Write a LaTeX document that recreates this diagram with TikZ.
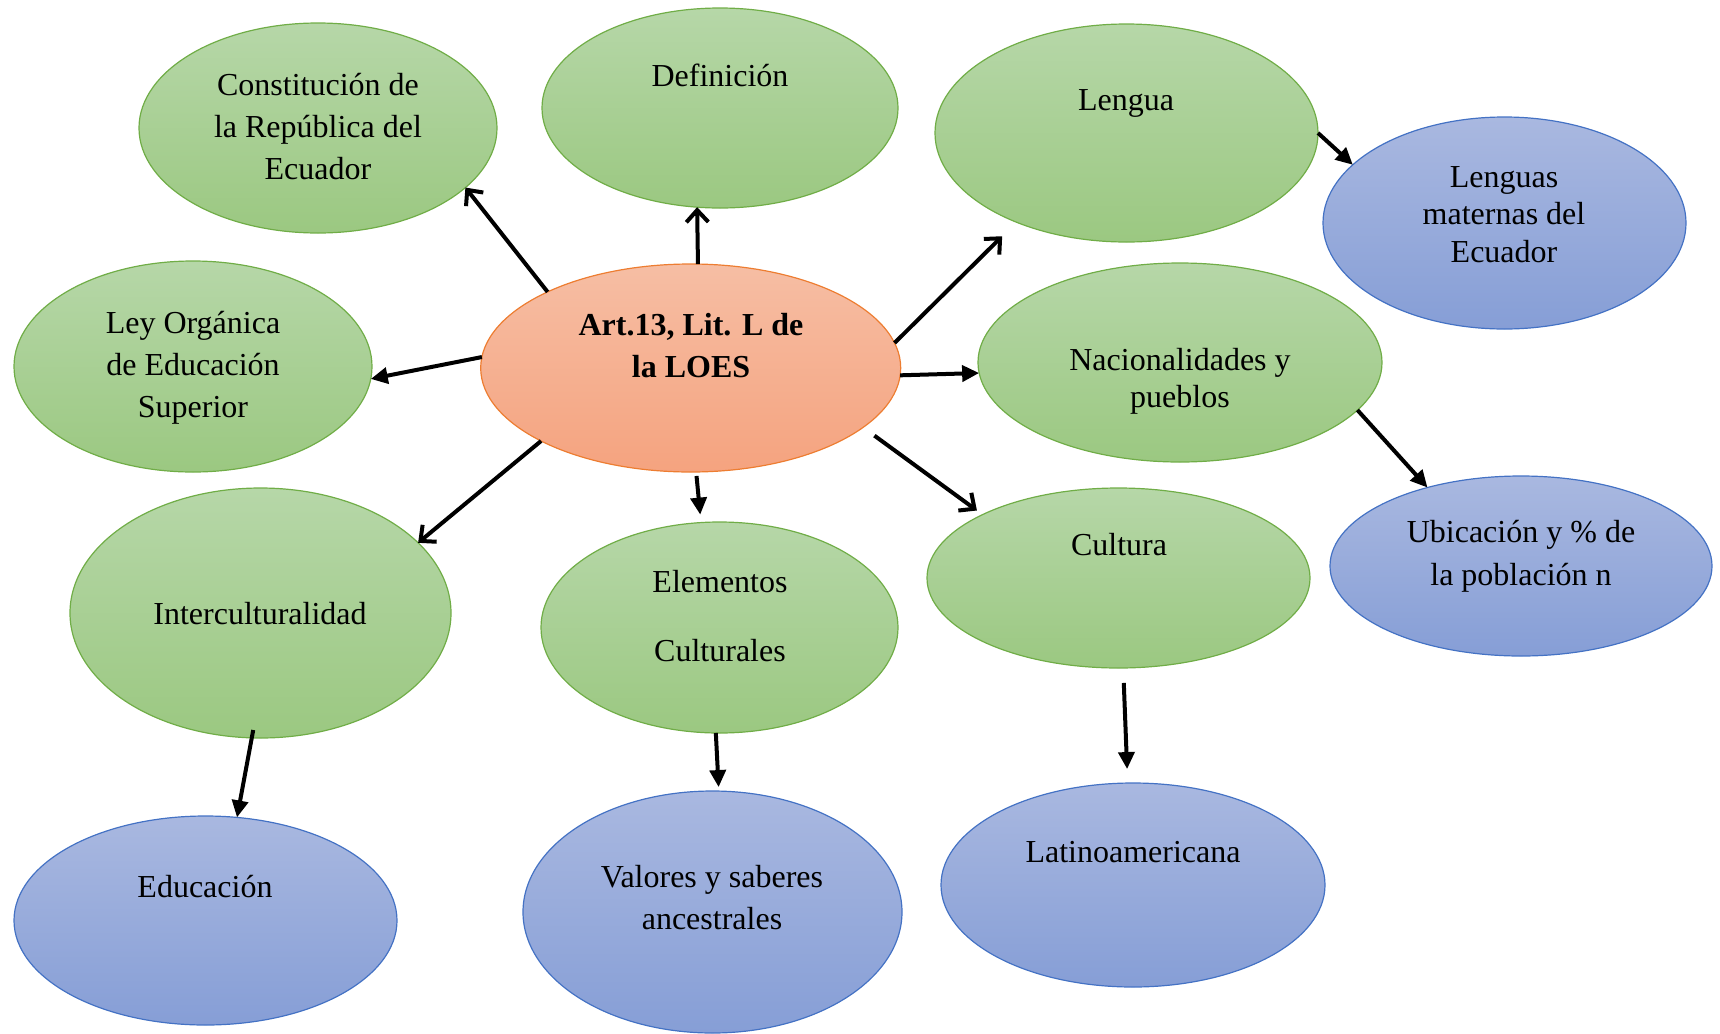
\documentclass[tikz,border=0pt]{standalone}
\usepackage{fontspec}
\setmainfont{Liberation Serif}
\usetikzlibrary{shapes.geometric,arrows.meta}
\definecolor{gTop}{HTML}{B6D7A8}
\definecolor{gBot}{HTML}{9BC881}
\definecolor{gLine}{HTML}{70AD47}
\definecolor{oTop}{HTML}{F6BEA4}
\definecolor{oBot}{HTML}{F5A37F}
\definecolor{oLine}{HTML}{ED7D31}
\definecolor{bTop}{HTML}{A9B8E0}
\definecolor{bBot}{HTML}{869ED6}
\definecolor{bLine}{HTML}{4472C4}
\tikzset{
  bub/.style={ellipse, inner sep=0pt, outer sep=0pt, line width=0.6pt},
  gbub/.style={bub, draw=gLine, top color=gTop, bottom color=gBot},
  obub/.style={bub, draw=oLine, top color=oTop, bottom color=oBot},
  bbub/.style={bub, draw=bLine, top color=bTop, bottom color=bBot},
  txt/.style={anchor=base, inner sep=0pt, font=\fontsize{16pt}{19pt}\selectfont},
  btxt/.style={txt, font=\fontsize{16pt}{19pt}\selectfont\bfseries},
  fillarrow/.style={line width=2pt, line cap=butt, -{Triangle[length=8.5pt,width=8pt]}},
  openarrow/.style={line width=2pt, line cap=butt, -{Straight Barb[length=6pt,width=11pt]}},
}
\begin{document}
\begin{tikzpicture}[x=0.5pt,y=-0.5pt]
\useasboundingbox (0,0) rectangle (1720,1034);
% ellipses
\node[gbub, minimum width=179pt, minimum height=105pt] (const) at (318,128) {};
\node[gbub, minimum width=178pt, minimum height=100pt] (def) at (720,108) {};
\node[gbub, minimum width=191.5pt, minimum height=109pt] (lengua) at (1126.5,133) {};
\node[bbub, minimum width=181.5pt, minimum height=106pt] (lmat) at (1504.5,223) {};
\node[gbub, minimum width=179pt, minimum height=105.5pt] (ley) at (193,366.5) {};
\node[obub, minimum width=210pt, minimum height=104pt] (art) at (690.7,368) {};
\node[gbub, minimum width=202pt, minimum height=99.5pt] (nac) at (1180,362.5) {};
\node[bbub, minimum width=191pt, minimum height=90pt] (ubic) at (1521,566) {};
\node[gbub, minimum width=190.5pt, minimum height=125pt] (inter) at (260.5,613) {};
\node[gbub, minimum width=178.5pt, minimum height=105.5pt] (elem) at (719.5,627.5) {};
\node[gbub, minimum width=191.5pt, minimum height=90pt] (cult) at (1118.5,578) {};
\node[bbub, minimum width=191.5pt, minimum height=104.5pt] (educ) at (205.5,920.5) {};
\node[bbub, minimum width=189.5pt, minimum height=121pt] (val) at (712.5,912) {};
\node[bbub, minimum width=192pt, minimum height=102pt] (lat) at (1133,885) {};
% texts
\node[txt] (tconstA) at (318,95) {Constitución de};
\node[txt] (tconstB) at (318,137) {la República del};
\node[txt] (tconstC) at (318,179) {Ecuador};
\node[txt] (tdef) at (720,86) {Definición};
\node[txt] (tlengua) at (1126,110) {Lengua};
\node[txt] (tlmatA) at (1504,187) {Lenguas};
\node[txt] (tlmatB) at (1504,224) {maternas del};
\node[txt] (tlmatC) at (1504,262) {Ecuador};
\node[txt] (tleyA) at (193,333) {Ley Orgánica};
\node[txt] (tleyB) at (193,375) {de Educación};
\node[txt] (tleyC) at (193,417) {Superior};
\node[btxt] (tartA) at (691,335) {Art.13, Lit. L de};
\node[btxt] (tartB) at (691,377) {la LOES};
\node[txt] (tnacA) at (1180,370) {Nacionalidades y};
\node[txt] (tnacB) at (1180,407) {pueblos};
\node[txt] (tubicA) at (1521,542) {Ubicación y \% de};
\node[txt] (tubicB) at (1521,585) {la población n};
\node[txt] (tinter) at (260,624) {Interculturalidad};
\node[txt] (telemA) at (720,592) {Elementos};
\node[txt] (telemB) at (720,661) {Culturales};
\node[txt] (tcult) at (1119,555) {Cultura};
\node[txt] (teduc) at (205,897) {Educación};
\node[txt] (tvalA) at (712,887) {Valores y saberes};
\node[txt] (tvalB) at (712,929) {ancestrales};
\node[txt] (tlat) at (1133,862) {Latinoamericana};
% connectors
\draw[openarrow] (art.152.2) -- (const.338.5);
\draw[openarrow] (art.86) -- (def.257.8);
\draw[openarrow, shorten >=10pt] (art.7.7) -- (lengua.219);
\draw[fillarrow] (lengua.0) -- (lmat.159.4);
\draw[fillarrow] (art.177) -- (ley.356.6);
\draw[fillarrow] (art.358.1) -- (nac.183.5);
\draw[fillarrow] (nac.345.8) -- (ubic.140.5);
\draw[openarrow] (art.206.5) -- (inter.24.6);
\draw[fillarrow, shorten <=2pt, shorten >=4pt] (art.273.3) -- (elem.100.3);
\draw[openarrow, shorten <=7pt, shorten >=3.5pt] (art.341.7) -- (cult.155.1);
\draw[fillarrow, shorten <=-4pt] (inter.266.3) -- (educ.73.1);
\draw[fillarrow, shorten >=2pt] (elem.268.1) -- (val.87.9);
\draw[fillarrow, shorten <=7.5pt, shorten >=7pt] (cult.273) -- (lat.93.5);
\end{tikzpicture}
\end{document}
